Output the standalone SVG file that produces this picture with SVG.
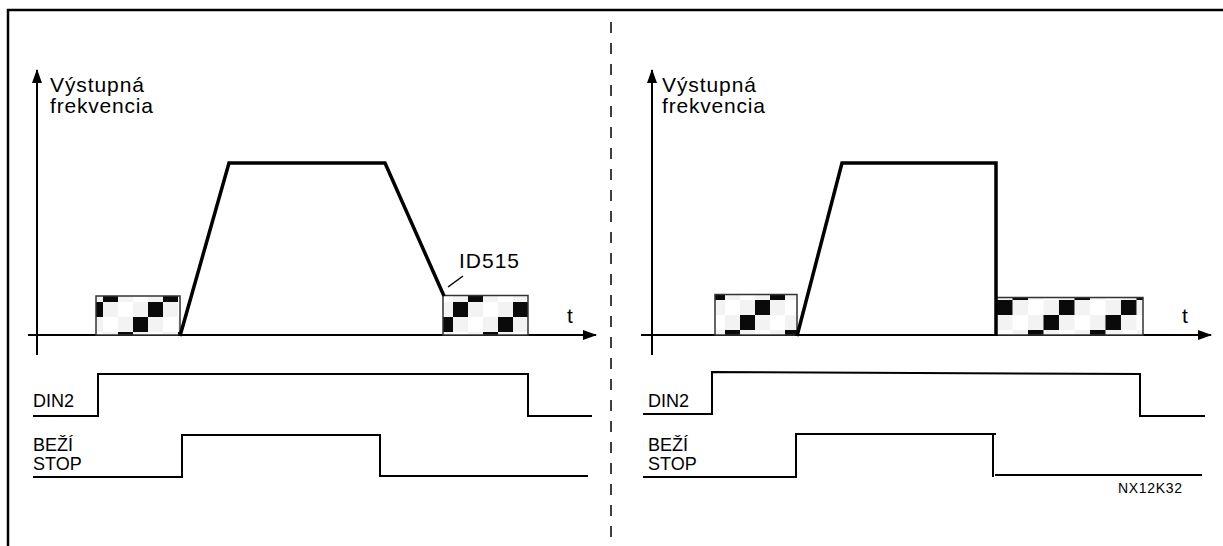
<svg xmlns="http://www.w3.org/2000/svg" xmlns:xlink="http://www.w3.org/1999/xlink" width="1223" height="546" viewBox="0 0 1223 546">
<style>
  text { font-family: "Liberation Sans", Arial, sans-serif; fill: #000; }
  .lbl { font-size: 21px; }
  .sig-lbl { font-size: 18px; }
  .axis { stroke: #000; stroke-width: 2; fill: none; }
  .sig { stroke: #000; stroke-width: 2; fill: none; }
  .ramp { stroke: #000; stroke-width: 3.5; fill: none; stroke-linejoin: miter; }
  .box { stroke: #333; stroke-width: 1.5; }
  .frame { stroke: #000; stroke-width: 2.5; fill: none; }
  .divider { stroke: #000; stroke-width: 1.5; stroke-dasharray: 11 10; }
</style>
<defs>
  <marker id="arr" viewBox="0 0 14 10" refX="13" refY="5" markerWidth="14" markerHeight="10" markerUnits="userSpaceOnUse" orient="auto">
    <path d="M0,0 L14,5 L0,10 Z" fill="#000"/>
  </marker>
  <pattern id="chk" patternUnits="userSpaceOnUse" x="88" y="287" width="60" height="60">
    <rect width="60" height="60" fill="#fff"/>
    <g fill="#f3f3f3">
      <rect x="0" y="0" width="15" height="15"/>
      <rect x="30" y="0" width="15" height="15"/>
      <rect x="15" y="15" width="15" height="15"/>
      <rect x="45" y="15" width="15" height="15"/>
      <rect x="0" y="30" width="15" height="15"/>
      <rect x="30" y="30" width="15" height="15"/>
      <rect x="15" y="45" width="15" height="15"/>
      <rect x="45" y="45" width="15" height="15"/>
    </g>
    <g fill="#0a0a0a">
      <rect x="15" y="0" width="15" height="15"/>
      <rect x="0" y="15" width="15" height="15"/>
      <rect x="45" y="30" width="15" height="15"/>
      <rect x="30" y="45" width="15" height="15"/>
    </g>
  </pattern>
  <pattern id="chk2" href="#chk" xlink:href="#chk" x="453" y="287"/>
  <pattern id="chk3" href="#chk" xlink:href="#chk" x="755" y="285"/>
  <pattern id="chk4" href="#chk" xlink:href="#chk" x="0" y="0" patternTransform="translate(997 285) scale(1.033 1)"/>
</defs>

<rect width="1223" height="546" fill="#fff"/>

<g id="frame">
  <path class="frame" d="M8,546 L8,10 L1223,10"/>
  <line class="divider" x1="611" y1="22" x2="611" y2="546"/>
</g>

<!-- Left panel -->
<g id="left-axes">
  <line class="axis" x1="37" y1="355" x2="37" y2="70" marker-end="url(#arr)"/>
  <line class="axis" x1="28" y1="335" x2="596" y2="335" marker-end="url(#arr)"/>
  <text class="lbl" x="50" y="92" textLength="94">Výstupná</text>
  <text class="lbl" x="50" y="113" textLength="103">frekvencia</text>
  <text class="lbl" x="567" y="323">t</text>
</g>
<g id="left-box1">
  <rect class="box" x="96" y="296" width="84" height="39" fill="url(#chk)"/>
</g>
<g id="left-box2">
  <rect class="box" x="443" y="295.5" width="85" height="39.5" fill="url(#chk2)"/>
</g>
<g id="left-ramp">
  <path class="ramp" d="M180,336 L229,163 L385,163 L444,296"/>
</g>
<g id="left-id515">
  <text class="lbl" x="459" y="268" textLength="60">ID515</text>
  <line stroke="#000" stroke-width="1.5" x1="448" y1="287" x2="463" y2="276"/>
</g>
<g id="left-din2">
  <text class="sig-lbl" x="33" y="407">DIN2</text>
  <path class="sig" d="M33,416 L98,416 L98,374 L528,374 L528,416 L592,416"/>
</g>
<g id="left-run">
  <text class="sig-lbl" x="33" y="451">BEŽÍ</text>
  <text class="sig-lbl" x="33" y="470">STOP</text>
  <path class="sig" d="M33,477 L182,477 L182,435 L380,435 L380,476 L588,476"/>
</g>

<!-- Right panel -->
<g id="right-axes">
  <line class="axis" x1="652" y1="355" x2="652" y2="70" marker-end="url(#arr)"/>
  <line class="axis" x1="641" y1="335" x2="1211" y2="335" marker-end="url(#arr)"/>
  <text class="lbl" x="662" y="92" textLength="94">Výstupná</text>
  <text class="lbl" x="662" y="113" textLength="103">frekvencia</text>
  <text class="lbl" x="1182" y="323">t</text>
</g>
<g id="right-box1">
  <rect class="box" x="715" y="294.5" width="82" height="40.5" fill="url(#chk3)"/>
</g>
<g id="right-box2">
  <rect class="box" x="996" y="297.5" width="147" height="37.5" fill="url(#chk4)"/>
</g>
<g id="right-ramp">
  <path class="ramp" d="M797,336 L842,163 L996,163 L996,336"/>
</g>
<g id="right-din2">
  <text class="sig-lbl" x="648" y="407">DIN2</text>
  <path class="sig" d="M643,414 L712,414 L712,372 L1140,374 L1140,416 L1205,416"/>
</g>
<g id="right-run">
  <text class="sig-lbl" x="648" y="451">BEŽÍ</text>
  <text class="sig-lbl" x="648" y="470">STOP</text>
  <path class="sig" d="M643,477 L796,477 L796,434 L996,434"/>
  <path class="sig" d="M993,434 L993,477"/>
  <path class="sig" d="M995,475 L1202,475"/>
  <text x="1118" y="493" font-size="14" textLength="64">NX12K32</text>
</g>
</svg>
